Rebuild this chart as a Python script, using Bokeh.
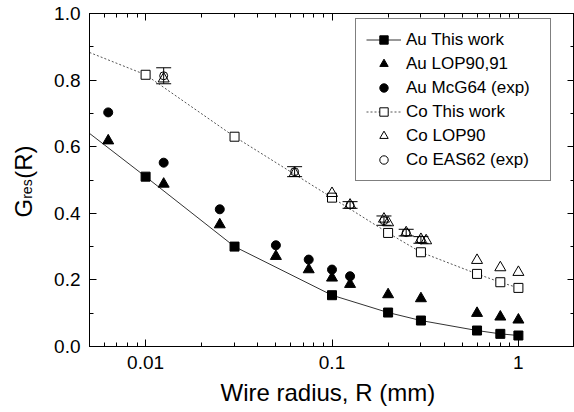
import numpy as np
from bokeh.plotting import figure
from bokeh.models import (Range1d, LogAxis, LinearAxis, FixedTicker, SingleIntervalTicker,
                          PrintfTickFormatter, Legend, LegendItem, Label, Whisker, TeeHead,
                          ColumnDataSource, CustomJSTickFormatter)
from bokeh.embed import file_html
from bokeh.resources import INLINE

# ---------------- data ----------------
au_this_x = [0.01, 0.03, 0.1, 0.2, 0.3, 0.6, 0.8, 1.0]
au_this_y = [0.51, 0.30, 0.154, 0.102, 0.078, 0.048, 0.038, 0.033]
au_fit_x = [0.005, 0.01, 0.03, 0.1, 0.2, 0.3, 0.6, 0.8, 1.0]
au_fit_y = [0.64, 0.51, 0.30, 0.154, 0.102, 0.078, 0.048, 0.038, 0.033]

au_lop_x = [0.0063, 0.0125, 0.025, 0.05, 0.075, 0.1, 0.125, 0.2, 0.3, 0.6, 0.8, 1.0]
au_lop_y = [0.618, 0.488, 0.366, 0.271, 0.231, 0.206, 0.187, 0.156, 0.144, 0.100, 0.089, 0.080]

au_mcg_x = [0.0063, 0.0125, 0.025, 0.05, 0.075, 0.1, 0.125]
au_mcg_y = [0.703, 0.552, 0.412, 0.304, 0.261, 0.231, 0.211]

co_this_x = [0.01, 0.03, 0.1, 0.2, 0.3, 0.6, 0.8, 1.0]
co_this_y = [0.816, 0.630, 0.447, 0.341, 0.283, 0.218, 0.193, 0.176]
co_fit_x = [0.005, 0.01, 0.03, 0.1, 0.2, 0.3, 0.6, 0.8, 1.0]
co_fit_y = [0.883, 0.816, 0.630, 0.447, 0.341, 0.283, 0.218, 0.193, 0.176]

co_lop_x = [0.0125, 0.063, 0.1, 0.125, 0.19, 0.2, 0.25, 0.3, 0.32, 0.6, 0.8, 1.0]
co_lop_y = [0.804, 0.520, 0.460, 0.425, 0.383, 0.372, 0.342, 0.322, 0.318, 0.259, 0.237, 0.223]

co_eas_x = [0.0125, 0.063, 0.125, 0.19, 0.25, 0.3]
co_eas_y = [0.813, 0.525, 0.425, 0.378, 0.342, 0.320]
co_eas_err = [0.024, 0.015, 0.010, 0.014, 0.010, 0.010]

x_ticks = [0.01, 0.1, 1.0]
x_tick_labels = ["0.01", "0.1", "1"]
x_minor = [k * 10.0 ** e for e in range(-3, 1) for k in range(1, 10)]

x_title = "Wire radius, R (mm)"
y_title_main = "G\u00a0\u00a0\u00a0(R)"   # gap (non-breaking spaces) holds the subscript
y_title_sub = "res"

FONT = "Liberation Sans"

# ---------------- figure ----------------
p = figure(width=574, height=412, x_axis_type="log",
           x_range=Range1d(0.005, 2.0), y_range=Range1d(0.0, 1.0),
           output_backend="svg", toolbar_location=None,
           min_border_left=89, min_border_right=0, min_border_top=13,
           min_border_bottom=66)
p.xgrid.visible = False
p.ygrid.visible = False
p.outline_line_color = "black"
p.outline_line_width = 1

xt = FixedTicker(ticks=x_ticks, minor_ticks=x_minor)
yt = SingleIntervalTicker(interval=0.2, num_minor_ticks=2)

bottom = p.below[0]
left = p.left[0]
bottom.ticker = xt
bottom.major_label_overrides = dict(zip(x_ticks, x_tick_labels))
left.ticker = yt
left.formatter = PrintfTickFormatter(format="%.1f")

blank = CustomJSTickFormatter(code="return ''")
top = LogAxis(ticker=xt, formatter=blank)
right = LinearAxis(ticker=yt, formatter=blank)
p.add_layout(top, "above")
p.add_layout(right, "right")

for ax in [top, right]:
    ax.major_label_text_font_size = "1px"
    ax.major_label_standoff = 0

for ax in [bottom, left, top, right]:
    ax.axis_line_color = "black"
    ax.major_tick_line_color = "black"
    ax.minor_tick_line_color = "black"
    ax.major_tick_in = 7
    ax.major_tick_out = 0
    ax.minor_tick_in = 4
    ax.minor_tick_out = 0
    ax.major_label_text_font = FONT
    ax.major_label_text_color = "black"

for ax in [bottom, left]:
    ax.major_label_text_font_size = "19px"
    ax.major_label_standoff = 9

# ---------------- glyphs ----------------
wsrc = ColumnDataSource(dict(x=co_eas_x,
                             lo=[y - e for y, e in zip(co_eas_y, co_eas_err)],
                             hi=[y + e for y, e in zip(co_eas_y, co_eas_err)]))
p.add_layout(Whisker(source=wsrc, base="x", lower="lo", upper="hi", dimension="height",
                     line_color="black", line_width=1,
                     upper_head=TeeHead(size=15, line_color="black", line_width=1),
                     lower_head=TeeHead(size=15, line_color="black", line_width=1)))

au_line = p.line(au_fit_x, au_fit_y, line_color="#333333", line_width=1)
co_line = p.line(co_fit_x, co_fit_y, line_color="#555555", line_width=1, line_dash="2 2")

au_sq = p.scatter(au_this_x, au_this_y, marker="square", size=9, fill_color="black",
                  line_color="black")
au_tri = p.scatter(au_lop_x, au_lop_y, marker="triangle", size=11, fill_color="black",
                   line_color="black")
au_cir = p.scatter(au_mcg_x, au_mcg_y, marker="circle", size=9, fill_color="black",
                   line_color="black")
co_sq = p.scatter(co_this_x, co_this_y, marker="square", size=9, fill_color="white",
                  line_color="black", line_width=1)
co_tri = p.scatter(co_lop_x, co_lop_y, marker="triangle", size=11, fill_color="white",
                   fill_alpha=0.0, line_color="black", line_width=1)
co_cir = p.scatter(co_eas_x, co_eas_y, marker="circle", size=8, fill_color="white",
                   fill_alpha=0.0, line_color="black", line_width=1)

legend = Legend(items=[
    LegendItem(label="Au This work", renderers=[au_line, au_sq]),
    LegendItem(label="Au LOP90,91", renderers=[au_tri]),
    LegendItem(label="Au McG64 (exp)", renderers=[au_cir]),
    LegendItem(label="Co This work", renderers=[co_line, co_sq]),
    LegendItem(label="Co LOP90", renderers=[co_tri]),
    LegendItem(label="Co EAS62 (exp)", renderers=[co_cir]),
], location=(266, 165), padding=10, spacing=3, glyph_width=35, glyph_height=21,
    label_height=21, label_standoff=5, label_width=134, margin=0,
    label_text_font_size="17px", label_text_font=FONT, label_text_color="black",
    border_line_color="black", border_line_width=1, background_fill_color="white",
    background_fill_alpha=1.0)
p.add_layout(legend)

# ---------------- axis titles in side panels (not clipped) ----------------
p.add_layout(Label(x=131, y=6, x_units="screen", y_units="screen", text=x_title,
                   text_font=FONT, text_font_size="24px", text_color="black",
                   text_align="left", text_baseline="alphabetic"), "below")

p.add_layout(Label(x=-1.5, y=129, x_units="screen", y_units="screen", text=y_title_main,
                   angle=np.pi / 2, text_font=FONT, text_font_size="24px",
                   text_color="black", text_align="left", text_baseline="alphabetic"), "left")
p.add_layout(Label(x=18.5, y=147.7, x_units="screen", y_units="screen", text=y_title_sub,
                   angle=np.pi / 2, text_font=FONT, text_font_size="14px",
                   text_color="black", text_align="left", text_baseline="alphabetic"), "left")

open("out.html", "w").write(file_html(p, INLINE))
